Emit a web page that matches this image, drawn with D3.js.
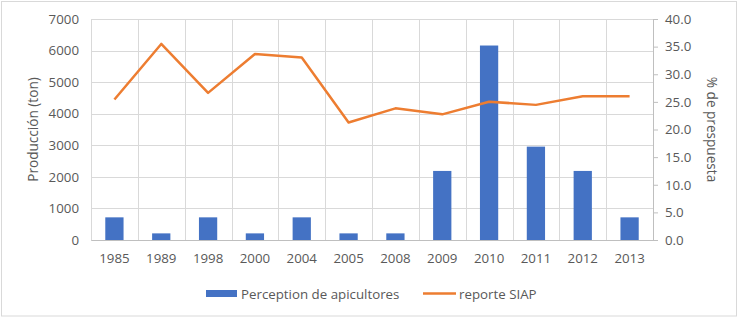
<!DOCTYPE html>
<html>
<head>
<meta charset="utf-8">
<script src="https://cdn.jsdelivr.net/npm/d3@7"></script>
<style>
  body { margin: 0; background: #fff; }
  svg text { font-family: "Open Sans", "Liberation Sans", sans-serif; fill: #595959; }
</style>
</head>
<body>
<svg id="chart"></svg>
<script>
const years = ['1985', '1989', '1998', '2000', '2004', '2005', '2008', '2009', '2010', '2011', '2012', '2013'];
// Perception de apicultores (% de prespuesta, right axis)
const perception = [4.1, 1.2, 4.1, 1.2, 4.1, 1.2, 1.2, 12.5, 35.2, 16.9, 12.5, 4.1];
// reporte SIAP (Producción en ton, left axis)
const siap = [4450, 6210, 4660, 5890, 5780, 3720, 4170, 3980, 4380, 4280, 4550, 4550];
const leftTicks = [0, 1000, 2000, 3000, 4000, 5000, 6000, 7000];
const rightTicks = [0, 5, 10, 15, 20, 25, 30, 35, 40];

const fullWidth = 739;
const fullHeight = 318;
const margin = {top: 19, right: 86, bottom: 78, left: 91};
const width = fullWidth - margin.left - margin.right;
const height = fullHeight - margin.top - margin.bottom;

const svg = d3.select('#chart')
    .attr('width', fullWidth)
    .attr('height', fullHeight);

// chart frame
svg.append('rect')
    .attr('x', 1.5).attr('y', 1.5)
    .attr('width', 735).attr('height', 314.5)
    .attr('fill', '#fff')
    .attr('stroke', '#d9d9d9');

const g = svg.append('g')
    .attr('transform', `translate(${margin.left}, ${margin.top})`);

const xScale = d3.scaleBand()
    .domain(years)
    .range([0, width]);

const yLeft = d3.scaleLinear()
    .domain([0, 7000])
    .range([height, 0]);

const yRight = d3.scaleLinear()
    .domain([0, 40])
    .range([height, 0]);

// grid
g.append('g').selectAll('line').data(leftTicks)
    .enter().append('line')
        .attr('x1', 0).attr('x2', width)
        .attr('y1', d => Math.round(yLeft(d)) + 0.5)
        .attr('y2', d => Math.round(yLeft(d)) + 0.5)
        .attr('stroke', '#d9d9d9');

g.append('g').selectAll('line').data(years.concat(['end']))
    .enter().append('line')
        .attr('x1', (d, i) => Math.round(i * xScale.step()) + 0.5)
        .attr('x2', (d, i) => Math.round(i * xScale.step()) + 0.5)
        .attr('y1', 0).attr('y2', height)
        .attr('stroke', '#d9d9d9');

// bars
const barWidth = xScale.bandwidth() * 0.39;
g.append('g').selectAll('rect').data(perception)
    .enter().append('rect')
        .attr('x', (d, i) => xScale(years[i]) + (xScale.bandwidth() - barWidth) / 2)
        .attr('y', d => yRight(d))
        .attr('width', barWidth)
        .attr('height', d => height - yRight(d))
        .attr('fill', '#4472c4');

// line
const line = d3.line()
    .x((d, i) => xScale(years[i]) + xScale.bandwidth() / 2)
    .y(d => yLeft(d));

g.append('path')
    .datum(siap)
    .attr('d', line)
    .attr('fill', 'none')
    .attr('stroke', '#ed7d31')
    .attr('stroke-width', 2.5)
    .attr('stroke-linejoin', 'round');

// axes
const xAxis = d3.axisBottom(xScale).tickSize(0).tickPadding(14);
const xg = g.append('g')
    .attr('transform', `translate(0, ${height})`)
    .call(xAxis);
xg.select('.domain').attr('stroke', '#bfbfbf');
xg.selectAll('text').style('font-size', '13.3px').attr('fill', '#595959');

const yAxisLeft = d3.axisLeft(yLeft).tickValues(leftTicks)
    .tickFormat(d3.format('d')).tickSize(0).tickPadding(12);
const ylg = g.append('g').call(yAxisLeft);
ylg.select('.domain').remove();
ylg.selectAll('text').style('font-size', '13.3px').attr('fill', '#595959');

const yAxisRight = d3.axisRight(yRight).tickValues(rightTicks)
    .tickFormat(d3.format('.1f')).tickSizeInner(5).tickSizeOuter(0).tickPadding(7);
const yrg = g.append('g')
    .attr('transform', `translate(${width}, 0)`)
    .call(yAxisRight);
yrg.select('.domain').attr('stroke', '#bfbfbf');
yrg.selectAll('.tick line').attr('stroke', '#bfbfbf');
yrg.selectAll('text').style('font-size', '13.3px').attr('fill', '#595959');

// axis titles
svg.append('text')
    .attr('transform', `translate(38, ${margin.top + height / 2}) rotate(-90)`)
    .attr('text-anchor', 'middle')
    .style('font-size', '13.6px')
    .text('Producción (ton)');

svg.append('text')
    .attr('transform', `translate(707, ${margin.top + height / 2}) rotate(90)`)
    .attr('text-anchor', 'middle')
    .style('font-size', '13.6px')
    .text('% de prespuesta');

// legend
const legend = svg.append('g').attr('transform', 'translate(0, 293.5)');
legend.append('rect')
    .attr('x', 206).attr('y', -3.5)
    .attr('width', 31).attr('height', 7)
    .attr('fill', '#4472c4');
legend.append('text')
    .attr('x', 241).attr('y', 5)
    .style('font-size', '13.3px')
    .text('Perception de apicultores');
legend.append('line')
    .attr('x1', 423).attr('x2', 456)
    .attr('y1', 0).attr('y2', 0)
    .attr('stroke', '#ed7d31')
    .attr('stroke-width', 2.5);
legend.append('text')
    .attr('x', 459).attr('y', 5)
    .style('font-size', '13.3px')
    .text('reporte SIAP');
</script>
</body>
</html>
